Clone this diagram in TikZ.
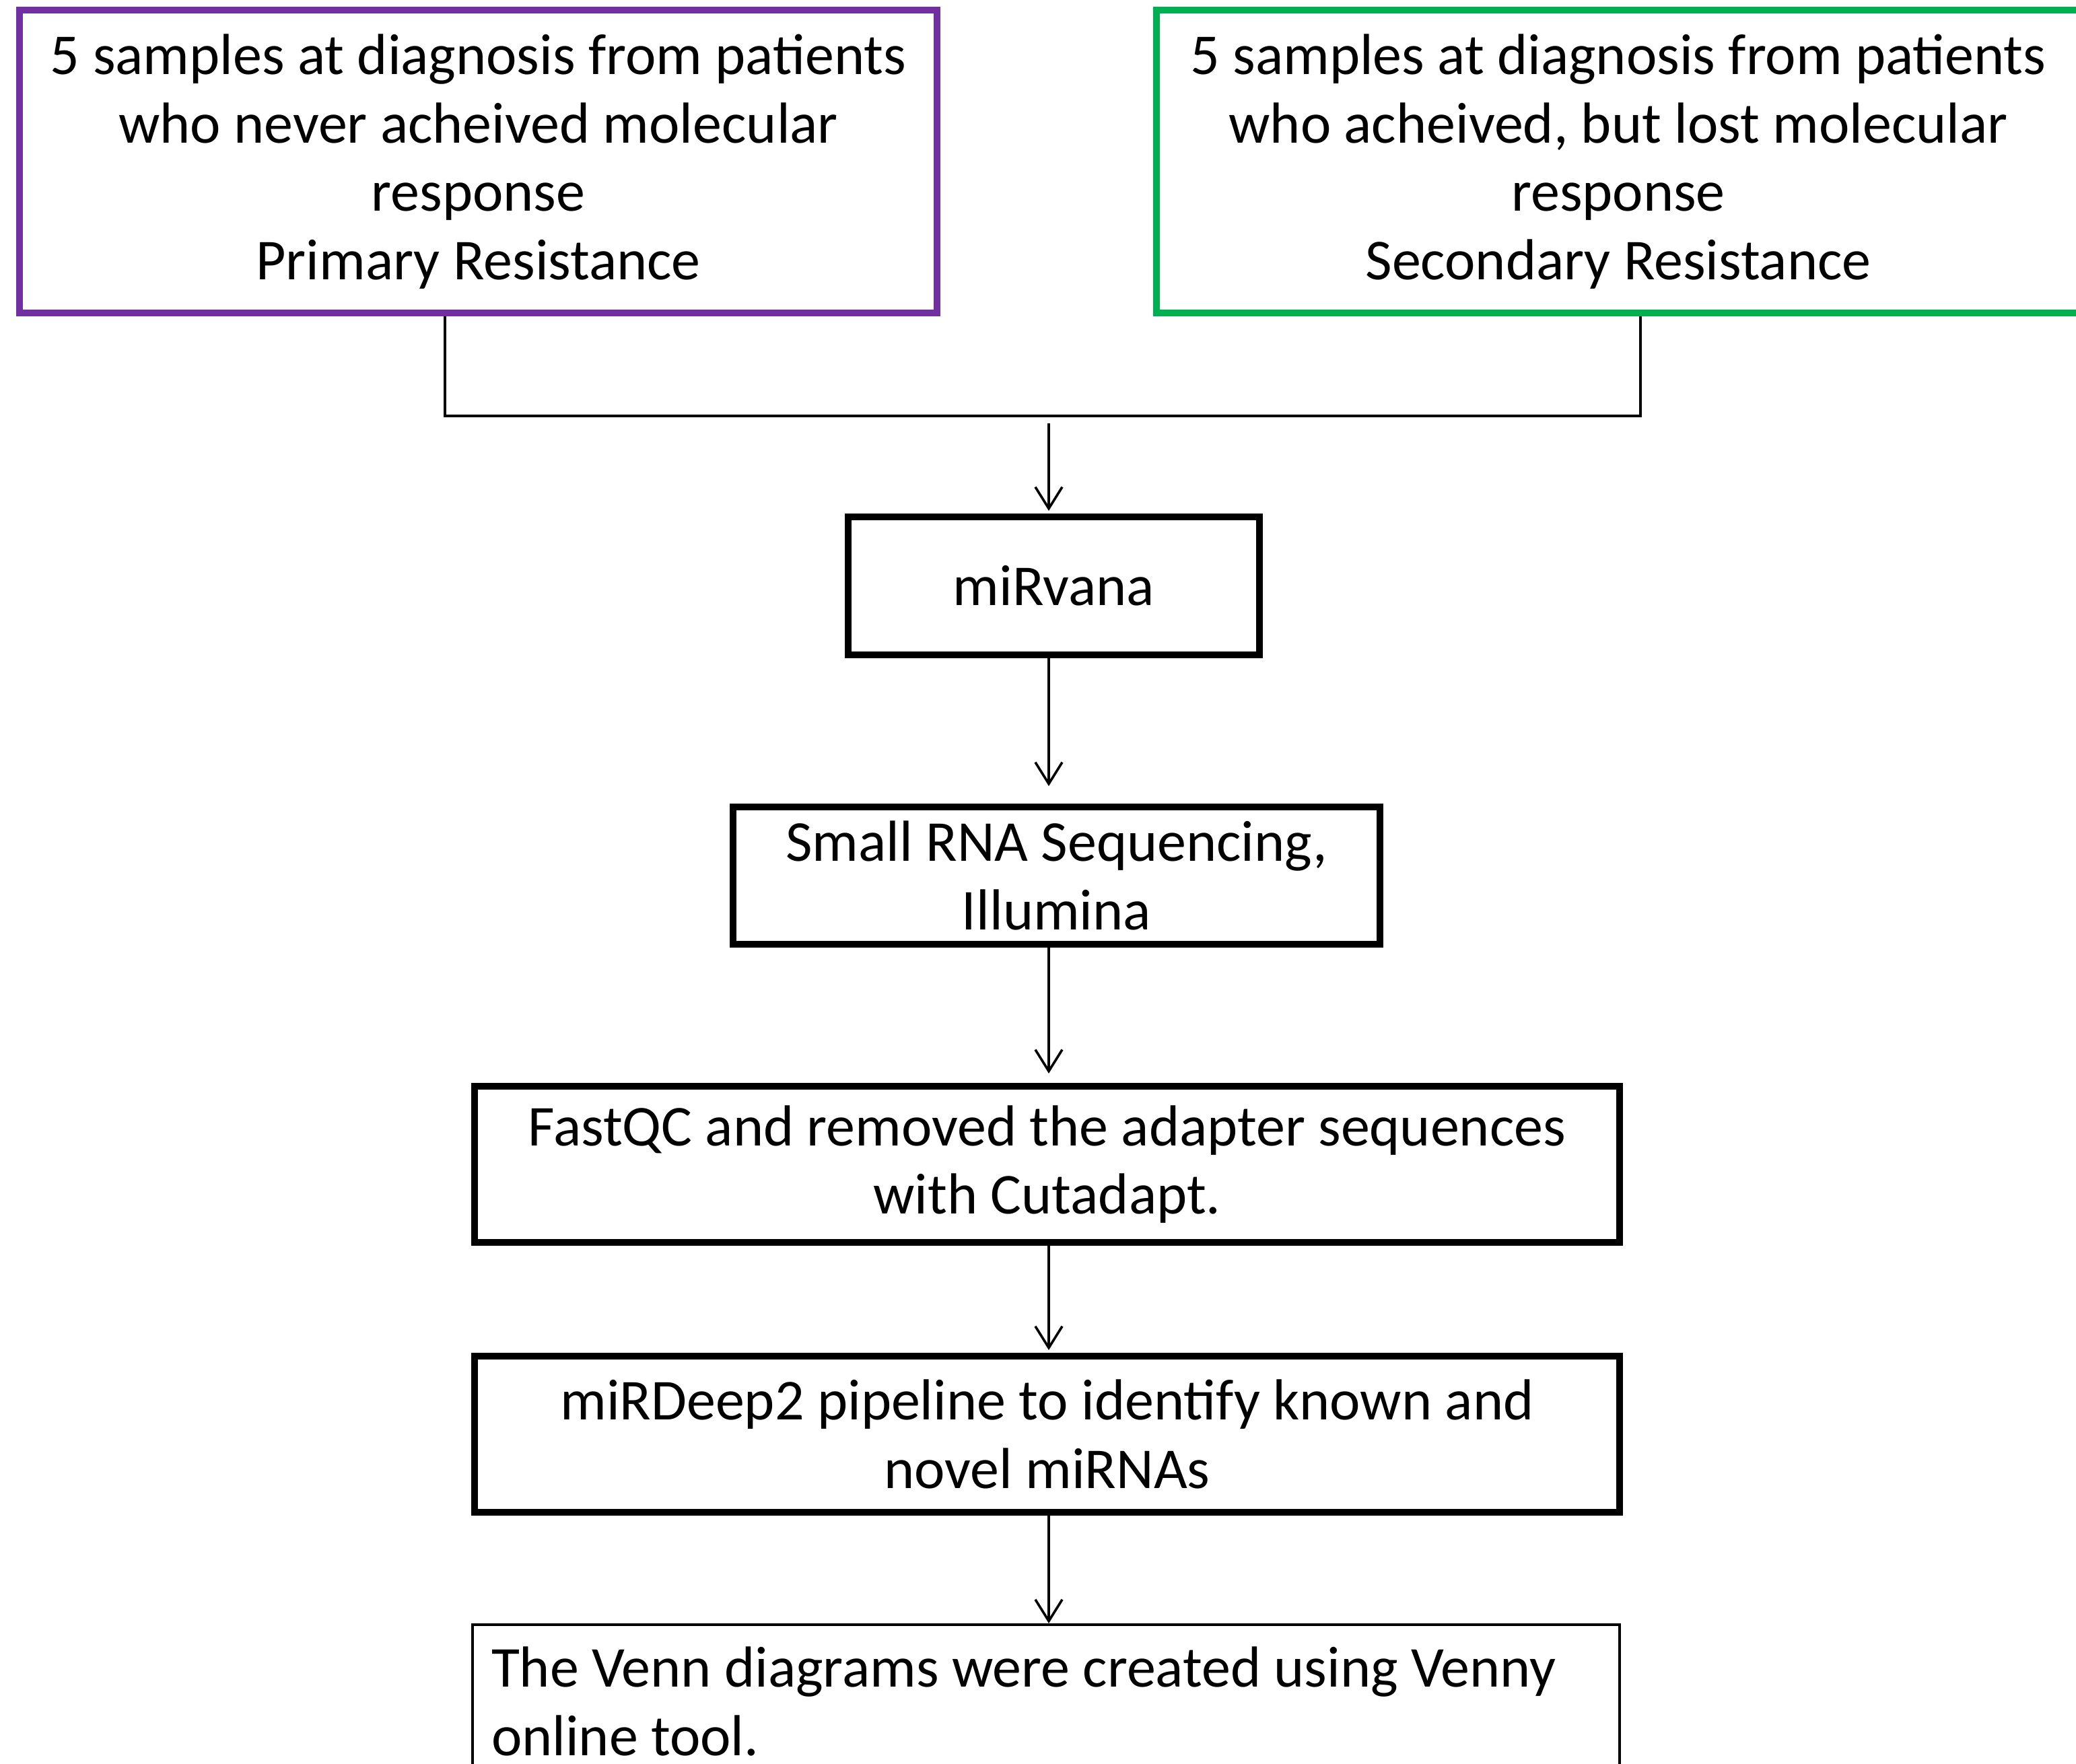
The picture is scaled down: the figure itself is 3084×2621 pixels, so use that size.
\documentclass[tikz,border=0pt]{standalone}
\usepackage{fontspec}
\setmainfont{Carlito}
\usetikzlibrary{arrows.meta,calc}
\definecolor{boxpurple}{HTML}{7030A0}
\definecolor{boxgreen}{HTML}{00B050}
\begin{document}
\begin{tikzpicture}[x=0.25pt,y=-0.25pt,
  txt/.style={font=\fontsize{21.5pt}{25.4pt}\selectfont, align=center, inner sep=0pt},
  bigbox/.style={txt, draw, line width=2.5pt, rectangle},
  link/.style={draw=black, line width=0.9pt},
  flowarrow/.style={link, -{Straight Barb[length=8pt,width=10pt,line width=0.9pt]}}
]
\useasboundingbox[fill=white] (0,0) rectangle (3084,2621);

\node[bigbox, draw=boxpurple, minimum width=340.75pt, minimum height=112.5pt] (A) at (710.5,240)
  {5 samples at diagnosis from patients\\who never acheived molecular\\response\\Primary Resistance};
\node[bigbox, draw=boxgreen, minimum width=343pt, minimum height=112.5pt] (B) at (2404,240)
  {5 samples at diagnosis from patients\\who acheived, but lost molecular\\response\\Secondary Resistance};

\node[bigbox, minimum width=152.75pt, minimum height=51.25pt] (mir) at (1565.5,870.5) {miRvana};
\node[bigbox, minimum width=240.25pt, minimum height=51pt] (seq) at (1569.5,1301) {Small RNA Sequencing,\\Illumina};
\node[bigbox, minimum width=425.25pt, minimum height=58pt] (qc) at (1555.5,1730) {FastQC and removed the adapter sequences\\with Cutadapt.};
\node[bigbox, minimum width=425.25pt, minimum height=58pt] (deep) at (1555.5,2131) {miRDeep2 pipeline to identify known and\\novel miRNAs};
\node[txt, draw, line width=1pt, rectangle, anchor=north west, align=flush left,
  text width=412pt, inner xsep=7pt, inner ysep=8.25pt] (venn) at (700,2412)
  {The Venn diagrams were created using Venny\\online tool.};

\coordinate (jl) at (661,618);
\coordinate (jr) at (2437,618);
\coordinate (ax) at (1558,629);

\draw[link] (A.south -| jl) -- (jl) -- (jr) -- (B.south -| jr);
\draw[flowarrow, shorten >=1pt] (ax) -- (mir.north -| ax);
\draw[flowarrow, shorten >=6.5pt] (mir.south -| ax) -- (seq.north -| ax);
\draw[flowarrow, shorten >=3.5pt] (seq.south -| ax) -- (qc.north -| ax);
\draw[flowarrow, shorten >=1pt] (qc.south -| ax) -- (deep.north -| ax);
\draw[flowarrow] (deep.south -| ax) -- (venn.north -| ax);
\end{tikzpicture}
\end{document}
